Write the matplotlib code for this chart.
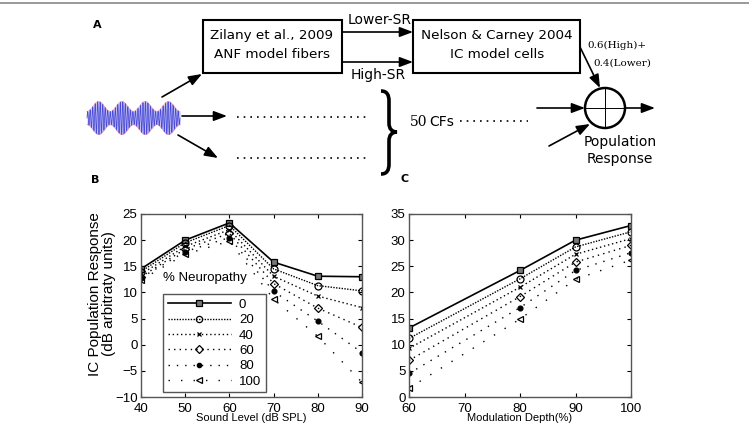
import numpy as np
import matplotlib
matplotlib.use('Agg')
import matplotlib.pyplot as plt
from matplotlib.path import Path
from matplotlib.patches import PathPatch, Rectangle, Circle
from matplotlib.lines import Line2D

# panel B data
levels = [40, 50, 60, 70, 80, 90]
resp_level = {
    '0':   [14.5, 20.0, 23.3, 15.8, 13.1, 13.0],
    '20':  [14.0, 19.5, 22.8, 14.5, 11.3, 10.3],
    '40':  [13.5, 18.8, 22.0, 13.1, 9.3, 7.1],
    '60':  [13.0, 18.3, 21.3, 11.7, 7.0, 3.3],
    '80':  [12.8, 17.8, 20.5, 10.2, 4.5, -1.5],
    '100': [12.4, 17.3, 19.8, 8.7, 1.6, -7.2],
}
# panel C data
depths = [60, 80, 90, 100]
resp_depth = {
    '0':   [13.2, 24.2, 30.0, 32.8],
    '20':  [11.2, 22.6, 28.7, 31.6],
    '40':  [9.3, 21.0, 27.3, 30.3],
    '60':  [7.0, 19.2, 25.8, 29.0],
    '80':  [4.5, 17.1, 24.2, 27.6],
    '100': [1.7, 14.9, 22.5, 26.2],
}
neuropathy = ['0', '20', '40', '60', '80', '100']

styles = {
    '0':   dict(ls='-', marker='s', mfc='#777777', ms=4.5, lw=1.2),
    '20':  dict(ls=(0, (1, 1)), marker='o', mfc='none', ms=5, lw=1),
    '40':  dict(ls=(0, (1, 2)), marker='x', mfc='none', ms=3.5, lw=1),
    '60':  dict(ls=(0, (1, 3)), marker='D', mfc='none', ms=4, lw=1),
    '80':  dict(ls=(0, (1, 5)), marker='o', mfc='black', ms=3.5, lw=1),
    '100': dict(ls=(0, (1, 8)), marker='<', mfc='none', ms=5, lw=1),
}

fig = plt.figure(figsize=(7.49, 4.30), dpi=100)
ax0 = fig.add_axes([0, 0, 1, 1])
ax0.set_xlim(0, 749)
ax0.set_ylim(430, 0)
ax0.axis('off')

# top separator
ax0.plot([0, 749], [3, 3], color='#888888', lw=1.2)

sans = 'DejaVu Sans'
ax0.text(97, 25, 'A', fontsize=8, fontweight='bold', ha='center', va='center', family=sans)
ax0.text(95, 180, 'B', fontsize=8, fontweight='bold', ha='center', va='center', family=sans)
ax0.text(405, 179, 'C', fontsize=8, fontweight='bold', ha='center', va='center', family=sans)

# boxes
ax0.add_patch(Rectangle((203, 20), 139, 53, fill=False, lw=1.5, ec='black'))
ax0.text(272, 36, 'Zilany et al., 2009', fontsize=9.7, ha='center', va='center', family=sans)
ax0.text(272, 55, 'ANF model fibers', fontsize=9.7, ha='center', va='center', family=sans)
ax0.add_patch(Rectangle((413, 20), 167, 53, fill=False, lw=1.5, ec='black'))
ax0.text(497, 36, 'Nelson & Carney 2004', fontsize=9.7, ha='center', va='center', family=sans)
ax0.text(497, 55, 'IC model cells', fontsize=9.7, ha='center', va='center', family=sans)

arr = dict(arrowstyle='-|>,head_length=0.8,head_width=0.3', color='black', lw=1.2,
           shrinkA=0, shrinkB=0)

def arrow(x1, y1, x2, y2):
    ax0.annotate('', xy=(x2, y2), xytext=(x1, y1), arrowprops=arr)

arrow(342, 32, 413, 32)
arrow(342, 62, 413, 62)
ax0.text(380, 20, 'Lower-SR', fontsize=10, ha='center', va='center', family=sans)
ax0.text(378, 75, 'High-SR', fontsize=10, ha='center', va='center', family=sans)

# AM signal
u = np.linspace(0, 1, 4000)
env = 0.7 - 0.3 * np.cos(2 * np.pi * 4 * u)
sig = env * np.sin(2 * np.pi * 37 * u)
sx = 87 + 93 * u
ax0.fill_between(sx, 118 - 16.5 * env, 118 + 16.5 * env, color='#c0c0f6', lw=0)
ax0.plot(sx, 118 - 16.5 * sig, color='#4a4ad6', lw=0.55)
ax0.plot(sx, 118 - 16.5 * env, color='#e07090', lw=0.5, alpha=0.7)
ax0.plot(sx, 118 + 16.5 * env, color='#e07090', lw=0.5, alpha=0.7)

arrow(162, 97, 202, 74)
arrow(182, 116, 227, 116)
arrow(178, 135, 218, 158)
ax0.plot([237, 367], [117, 117], color='black', lw=1.2, ls=(0, (1, 3)))
ax0.plot([237, 367], [158, 158], color='black', lw=1.2, ls=(0, (1, 3)))

# brace
verts = [(381, 91), (387, 91), (389, 95), (389, 101), (389, 123),
         (389, 129), (392, 132), (397, 132),
         (392, 132), (389, 135), (389, 141), (389, 164),
         (389, 170), (387, 174), (381, 174)]
codes = [Path.MOVETO, Path.CURVE4, Path.CURVE4, Path.CURVE4, Path.LINETO,
         Path.CURVE4, Path.CURVE4, Path.CURVE4,
         Path.CURVE4, Path.CURVE4, Path.CURVE4, Path.LINETO,
         Path.CURVE4, Path.CURVE4, Path.CURVE4]
ax0.add_patch(PathPatch(Path(verts, codes), fill=False, lw=2.6, ec='black'))

ax0.text(410, 122, '50', fontsize=10, ha='left', va='center', family='DejaVu Serif')
ax0.text(429, 122, 'CFs', fontsize=10, ha='left', va='center', family=sans)
ax0.plot([460, 528], [121, 121], color='black', lw=1.2, ls=(0, (1, 3)))

# summing node
ax0.add_patch(Circle((605, 108), 20, fill=False, lw=1.8, ec='black'))
ax0.plot([585, 625], [108, 108], color='black', lw=0.7)
ax0.plot([605, 605], [88, 128], color='black', lw=0.7)
arrow(580, 47, 600, 88)
arrow(537, 108, 585, 108)
arrow(625, 108, 655, 108)
arrow(549, 146, 590, 124)
ax0.text(587, 45, '0.6(High)+', fontsize=7.5, ha='left', va='center', family='DejaVu Serif')
ax0.text(593, 63, '0.4(Lower)', fontsize=7.5, ha='left', va='center', family='DejaVu Serif')
ax0.text(620, 142, 'Population', fontsize=10, ha='center', va='center', family=sans)
ax0.text(620, 159, 'Response', fontsize=10, ha='center', va='center', family=sans)

# plots
font = 'Liberation Sans'
axB = fig.add_axes([141 / 749, 1 - 397 / 430, 221 / 749, 183 / 430])
axC = fig.add_axes([409 / 749, 1 - 397 / 430, 222 / 749, 183 / 430])

for k in neuropathy:
    st = styles[k]
    axB.plot(levels, resp_level[k], color='black', ls=st['ls'], lw=st['lw'],
             marker=st['marker'], mfc=st['mfc'], mec='black', ms=st['ms'], mew=0.9)
    axC.plot(depths, resp_depth[k], color='black', ls=st['ls'], lw=st['lw'],
             marker=st['marker'], mfc=st['mfc'], mec='black', ms=st['ms'], mew=0.9)

axB.set_xlim(40, 90)
axB.set_ylim(-10, 25)
axB.set_xticks(levels)
axB.set_yticks(range(-10, 26, 5))
axC.set_xlim(60, 100)
axC.set_ylim(0, 35)
axC.set_xticks([60, 70, 80, 90, 100])
axC.set_yticks(range(0, 36, 5))

for ax in (axB, axC):
    ax.tick_params(direction='in', top=True, right=True, labelsize=9.5, length=3)
    ax.tick_params(axis='x', pad=4)
    ax.tick_params(axis='y', pad=2.5)
    for lab in ax.get_xticklabels() + ax.get_yticklabels():
        lab.set_family(font)
    for s in ax.spines.values():
        s.set_color('#555555')
        s.set_linewidth(1)

axB.set_xlabel('Sound Level (dB SPL)', fontsize=8, family=font, labelpad=-1)
axB.set_ylabel('IC Population Response\n(dB arbitraty units)', fontsize=11, family=font,
               linespacing=1.0)
axB.yaxis.set_label_coords(-0.115, 0.565)
axC.set_xlabel('Modulation Depth(%)', fontsize=8, family=font, labelpad=-1)

handles = []
for k in neuropathy:
    st = styles[k]
    handles.append(Line2D([], [], color='black', ls=st['ls'], lw=st['lw'], marker=st['marker'],
                          mfc=st['mfc'], mec='black', ms=st['ms'] * 0.9, mew=0.9))
leg = axB.legend(handles, neuropathy, loc='lower left', bbox_to_anchor=(0.1, 0.025),
                 prop={'family': font, 'size': 9.5}, handlelength=4.8, handletextpad=0.6,
                 labelspacing=0.24, borderpad=0.35, fancybox=False, framealpha=1,
                 edgecolor='#555555', borderaxespad=0)
axB.text(0.29, 0.65, '% Neuropathy', transform=axB.transAxes, fontsize=9.5,
         family=font, ha='center', va='center')

fig.savefig('out.png', dpi=100)
